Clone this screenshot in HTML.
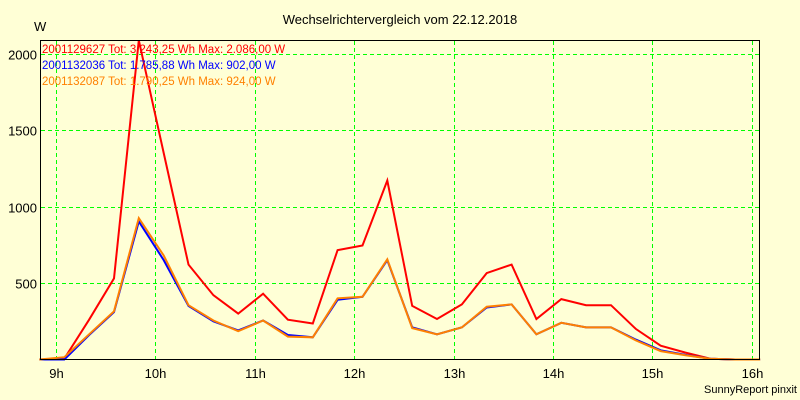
<!DOCTYPE html>
<html><head><meta charset="utf-8"><style>
body{margin:0;background:#ffffd6;}
svg{display:block;font-family:"Liberation Sans",sans-serif;}
</style></head><body>
<svg id="c" width="800" height="400">
<rect width="800" height="400" fill="#ffffd6"/>
<text x="400" y="24" font-size="13" text-anchor="middle">Wechselrichtervergleich vom 22.12.2018</text>
<text x="34" y="31" font-size="13">W</text>
<text x="797" y="393" font-size="11" text-anchor="end">SunnyReport pinxit</text>
<g id="grid"></g><g id="series"></g>
<rect x="40.5" y="40.5" width="719" height="319" fill="none" stroke="#000"/>
<g font-size="11.5">
<text x="42" y="53" fill="#ff0000">2001129627 Tot: 3.243,25 Wh Max: 2.086,00 W</text>
<text x="42" y="69" fill="#0000ff">2001132036 Tot: 1.785,88 Wh Max: 902,00 W</text>
<text x="42" y="85" fill="#ff8000">2001132087 Tot: 1.790,25 Wh Max: 924,00 W</text>
</g>
</svg>
<script>
const times=[8.8333,9.0833,9.3333,9.5833,9.8333,10.0833,10.3333,10.5833,10.8333,11.0833,11.3333,11.5833,11.8333,12.0833,12.3333,12.5833,12.8333,13.0833,13.3333,13.5833,13.8333,14.0833,14.3333,14.5833,14.8333,15.0833,15.3333,15.5833,15.8333,16.0833];
const redVals=[0,5,260,530,2086,1350,620,420,300,430,260,235,715,745,1170,350,265,360,565,620,265,395,355,355,200,90,45,5,0,0];
const blueVals=[0,0,160,310,902,650,350,250,190,255,160,145,390,410,650,210,165,210,340,360,165,240,210,210,130,60,30,5,0,0];
const orangeVals=[0,15,165,315,924,680,355,255,185,255,150,145,400,410,655,205,165,210,345,360,165,240,210,210,125,55,28,5,0,0];
const yTicks=[500,1000,1500,2000];
const xTicks=[9,10,11,12,13,14,15,16];
const NS="http://www.w3.org/2000/svg";
const X=h=>56+(h-9)*99.4;
const Y=v=>359.5-v*0.153;
const g=document.getElementById('grid'),s=document.getElementById('series');
function mk(tag,attrs,parent){const e=document.createElementNS(NS,tag);for(const k in attrs)e.setAttribute(k,attrs[k]);parent.appendChild(e);return e;}
yTicks.forEach(v=>{const y=Math.round(Y(v))+0.5;
const l=mk('line',{x1:41,x2:759,y1:y,y2:y,stroke:'#00ff00','stroke-dasharray':'4,3'},g);


const t=mk('text',{x:37,y:y+5,'font-size':13,'text-anchor':'end'},g);t.textContent=v;

});
xTicks.forEach(h=>{const x=Math.round(X(h))+0.5;
const l=mk('line',{x1:x,x2:x,y1:41,y2:359,stroke:'#00ff00','stroke-dasharray':'4,3'},g);


const t=mk('text',{x:x,y:378,'font-size':13,'text-anchor':'middle'},g);t.textContent=h+'h';

});
[[redVals,'#ff0000','red'],[blueVals,'#0000ff','blue'],[orangeVals,'#ff8000','orange']].forEach(([vals,c,n])=>{
const p=mk('polyline',{points:vals.map((v,i)=>X(times[i]).toFixed(1)+','+Y(v).toFixed(1)).join(' '),fill:'none',stroke:c,'stroke-width':2},s);

});
</script>
</body></html>
